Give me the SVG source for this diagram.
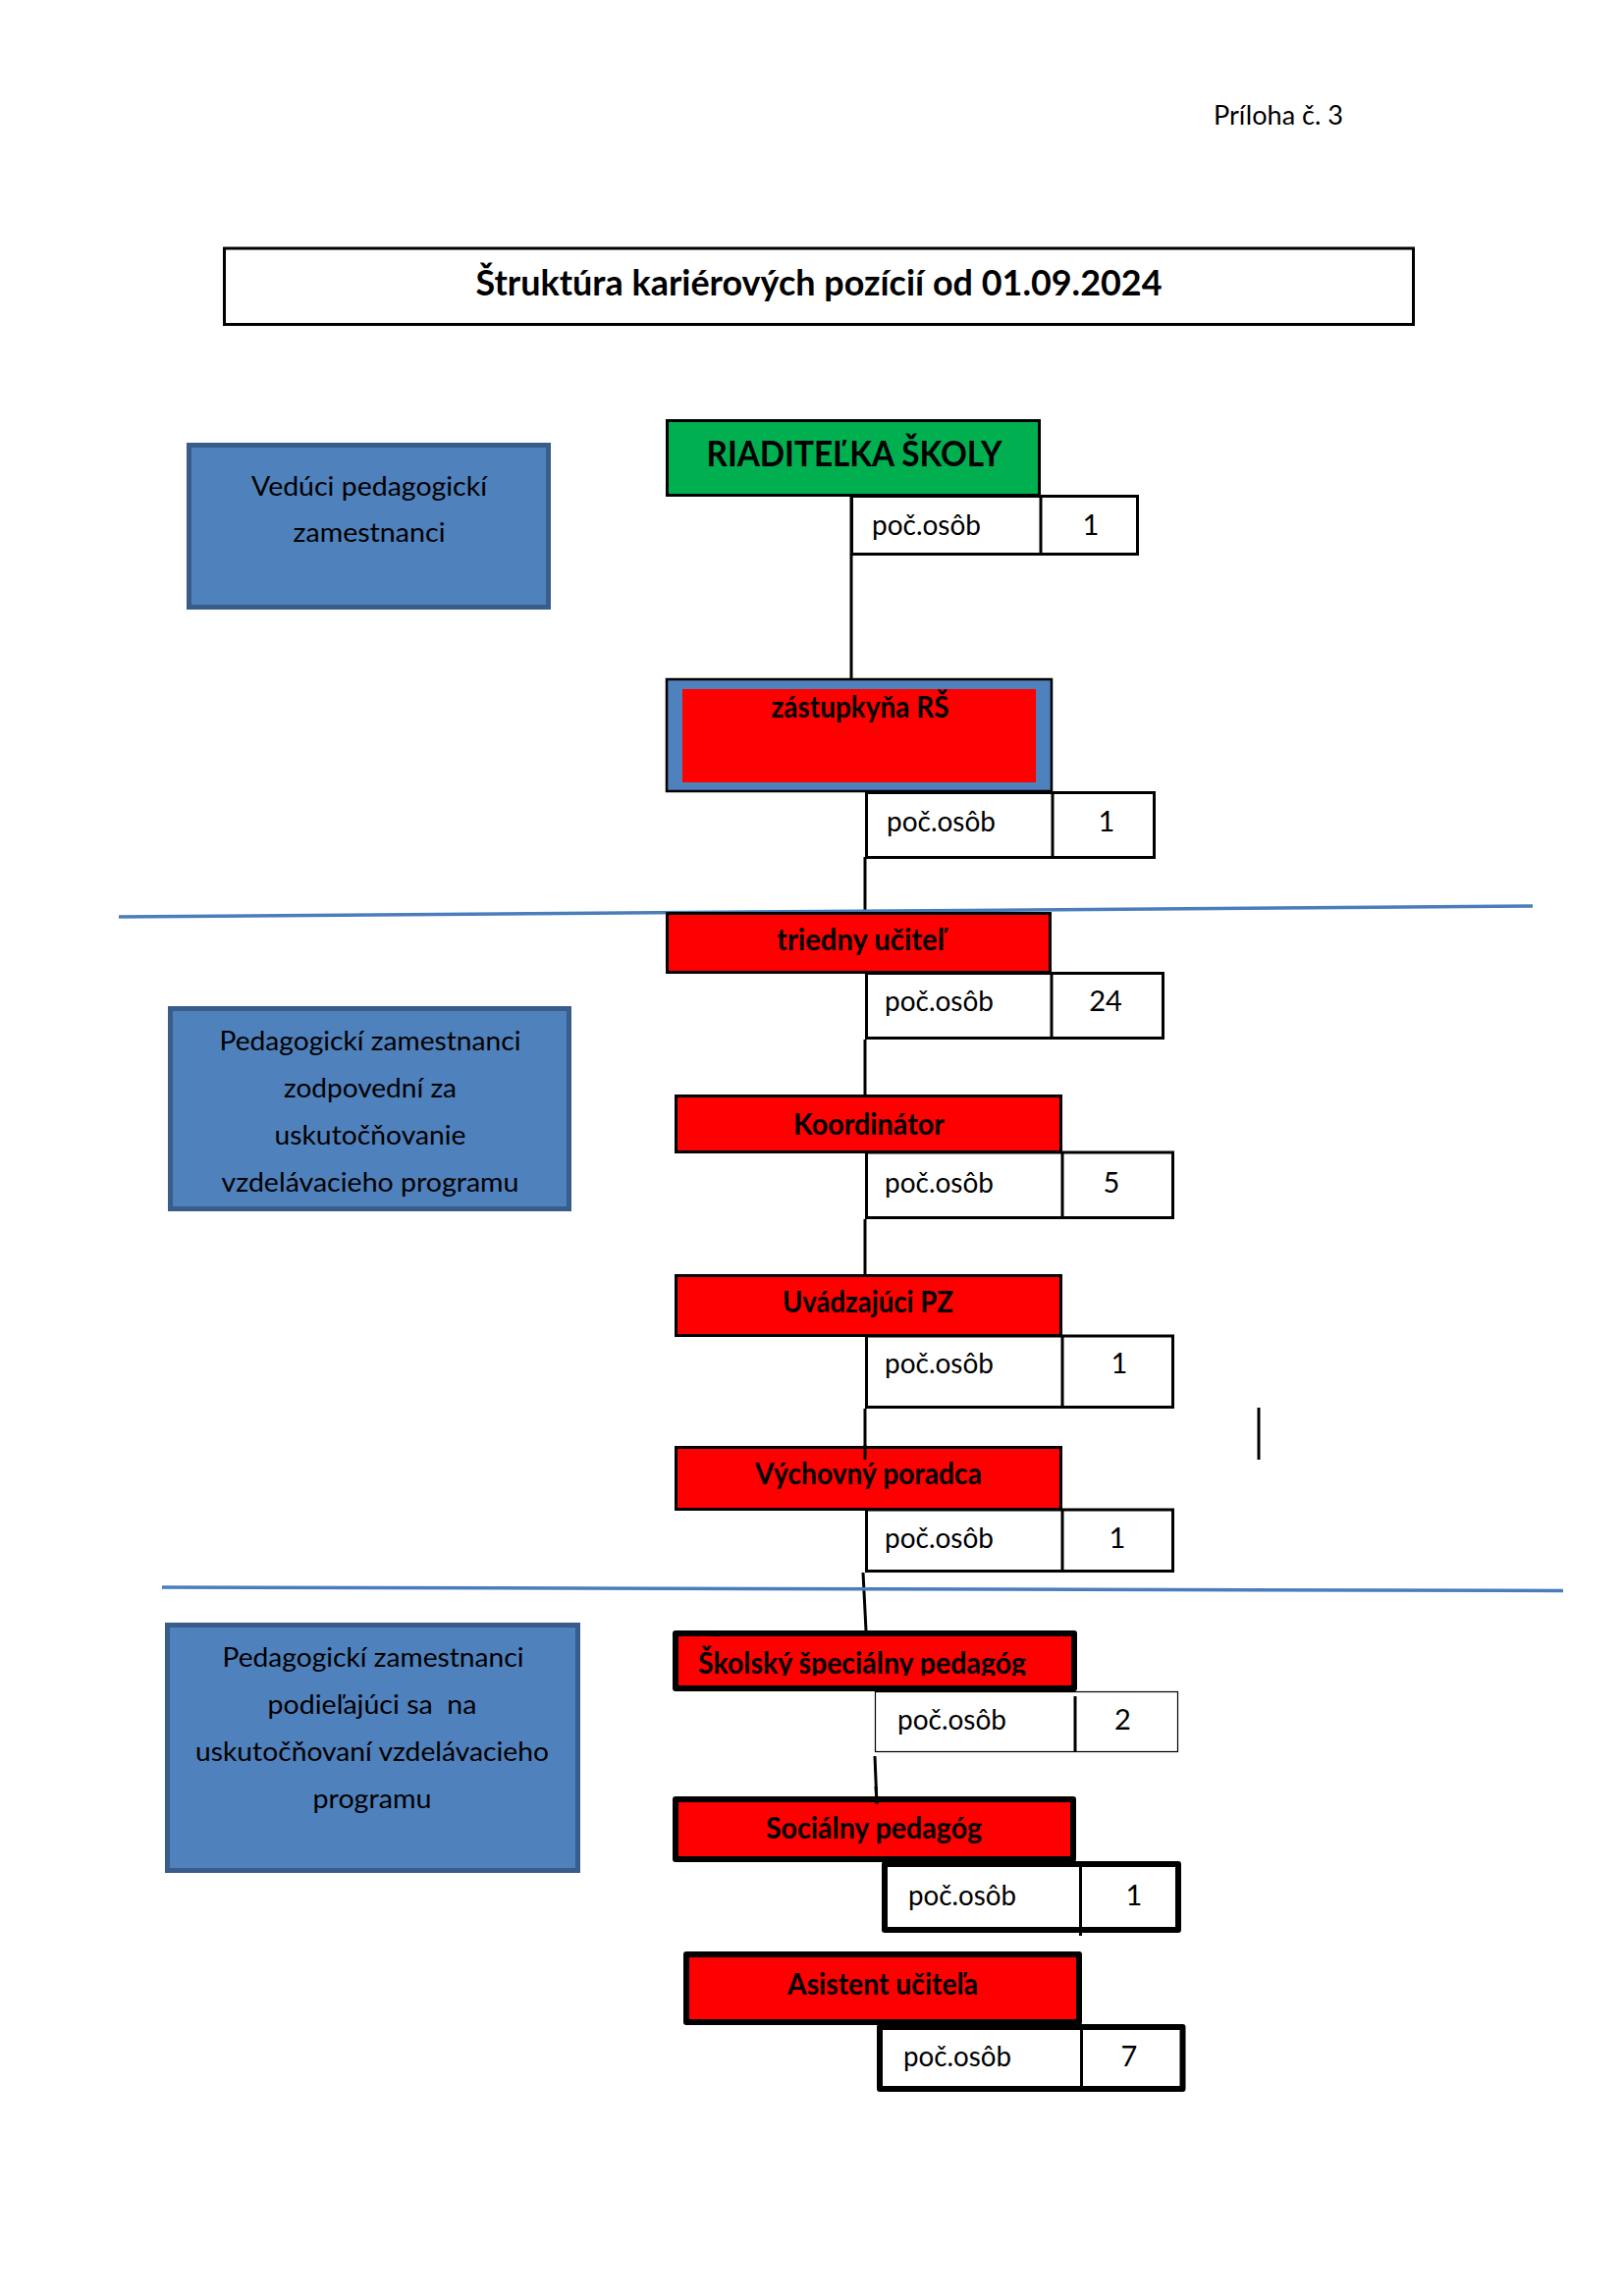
<svg xmlns="http://www.w3.org/2000/svg" width="1654" height="2339" viewBox="0 0 1654 2339">
<style>
text{font-family:Lato,"Open Sans","Liberation Sans",sans-serif;fill:#000}
.lbl{font-weight:bold;font-size:30px;text-anchor:middle}
.cnt{font-size:29px}
.num{font-size:29px;text-anchor:middle}
.bt{font-size:27px;text-anchor:middle}
.blue{fill:#4F81BD;stroke:#385D8A;stroke-width:5}
.red{fill:#FF0000;stroke:#000;stroke-width:3}
.redk{fill:#FF0000;stroke:#000;stroke-width:6;stroke-linejoin:round}
.cell{fill:#fff;stroke:#000;stroke-width:3}
.cellk{fill:#fff;stroke:#000;stroke-width:6;stroke-linejoin:round}
.ln{stroke:#000;stroke-width:3;fill:none}
.sep{stroke:#4A7EBB;stroke-width:3.5;fill:none}
</style>
<defs>
<clipPath id="clipSkol"><rect x="688" y="1664" width="406" height="43"/></clipPath>
</defs>
<rect x="0" y="0" width="1654" height="2339" fill="#fff"/>

<text x="1236" y="127" font-size="27" textLength="132" lengthAdjust="spacingAndGlyphs">Príloha č. 3</text>

<g id="title">
<rect x="228.5" y="253" width="1211" height="77.5" fill="#fff" stroke="#000" stroke-width="3"/>
<text x="834" y="301" font-size="37" font-weight="bold" text-anchor="middle" textLength="699" lengthAdjust="spacingAndGlyphs">Štruktúra kariérových pozícií od 01.09.2024</text>
</g>

<g id="connectors">
<line class="ln" x1="867" y1="506" x2="867" y2="692"/>
<line class="ln" x1="881" y1="873" x2="881" y2="930"/>
<line class="ln" x1="881" y1="1059" x2="881" y2="1116"/>
<line class="ln" x1="881" y1="1242" x2="881" y2="1299"/>
<line class="ln" x1="881" y1="1435" x2="881" y2="1487"/>
<line class="ln" x1="879" y1="1602" x2="882" y2="1661"/>
<line class="ln" x1="891" y1="1789" x2="893" y2="1838" stroke-width="2.5"/>
<line class="ln" x1="1282" y1="1434" x2="1282" y2="1487"/>
</g>

<g id="separators">
<line class="sep" x1="121" y1="934" x2="1561" y2="923"/>
<line class="sep" x1="165" y1="1617" x2="1592" y2="1620.5"/>
</g>

<g id="grp-veduci">
<rect class="blue" x="192.5" y="453.5" width="366" height="165"/>
<text class="bt" x="376" y="505" textLength="240" lengthAdjust="spacingAndGlyphs">Vedúci pedagogickí</text>
<text class="bt" x="376" y="552" textLength="155" lengthAdjust="spacingAndGlyphs">zamestnanci</text>
</g>

<g id="grp-zodpovedni">
<rect class="blue" x="173.5" y="1027.5" width="406" height="204"/>
<text class="bt" x="377" y="1070" textLength="307" lengthAdjust="spacingAndGlyphs">Pedagogickí zamestnanci</text>
<text class="bt" x="377" y="1118" textLength="176" lengthAdjust="spacingAndGlyphs">zodpovední za</text>
<text class="bt" x="377" y="1166" textLength="195" lengthAdjust="spacingAndGlyphs">uskutočňovanie</text>
<text class="bt" x="377" y="1214" textLength="303" lengthAdjust="spacingAndGlyphs">vzdelávacieho programu</text>
</g>

<g id="grp-podielajuci">
<rect class="blue" x="170.5" y="1655.5" width="418" height="250"/>
<text class="bt" x="380" y="1698" textLength="307" lengthAdjust="spacingAndGlyphs">Pedagogickí zamestnanci</text>
<text class="bt" x="379" y="1746" xml:space="preserve" textLength="213" lengthAdjust="spacingAndGlyphs">podieľajúci sa  na</text>
<text class="bt" x="379" y="1794" textLength="360" lengthAdjust="spacingAndGlyphs">uskutočňovaní vzdelávacieho</text>
<text class="bt" x="379" y="1842" textLength="121" lengthAdjust="spacingAndGlyphs">programu</text>
</g>

<g id="riaditelka">
<rect x="679.5" y="428.5" width="379" height="76" fill="#00B050" stroke="#000" stroke-width="3"/>
<text x="870" y="475" font-size="36" font-weight="bold" text-anchor="middle" textLength="301" lengthAdjust="spacingAndGlyphs">RIADITEĽKA ŠKOLY</text>
<rect class="cell" x="867.5" y="505.5" width="291" height="59"/>
<line class="ln" x1="1060" y1="506" x2="1060" y2="565"/>
<text class="cnt" x="888" y="545" textLength="111" lengthAdjust="spacingAndGlyphs">poč.osôb</text>
<text class="num" x="1111" y="545">1</text>
</g>

<g id="zastupkyna">
<rect x="679" y="692" width="392" height="114" fill="#4F81BD" stroke="#000" stroke-width="2.5"/>
<rect x="695" y="702" width="360" height="95" fill="#FF0000"/>
<text class="lbl" x="876" y="731" textLength="181" lengthAdjust="spacingAndGlyphs">zástupkyňa RŠ</text>
<rect class="cell" x="882.5" y="807.5" width="293" height="66"/>
<line class="ln" x1="1072" y1="807" x2="1072" y2="874"/>
<text class="cnt" x="903" y="847" textLength="111" lengthAdjust="spacingAndGlyphs">poč.osôb</text>
<text class="num" x="1127" y="847">1</text>
</g>

<g id="triedny">
<rect class="red" x="679.5" y="930.5" width="390" height="60"/>
<text class="lbl" x="876.5" y="968" textLength="171" lengthAdjust="spacingAndGlyphs">triedny učiteľ</text>
<rect class="cell" x="882.5" y="991.5" width="302" height="66"/>
<line class="ln" x1="1071" y1="991" x2="1071" y2="1058"/>
<text class="cnt" x="901" y="1030" textLength="111" lengthAdjust="spacingAndGlyphs">poč.osôb</text>
<text class="num" x="1126" y="1030">24</text>
</g>

<g id="koordinator">
<rect class="red" x="688.5" y="1116.5" width="392" height="57"/>
<text class="lbl" x="885" y="1156" textLength="154" lengthAdjust="spacingAndGlyphs">Koordinátor</text>
<rect class="cell" x="882.5" y="1174" width="312" height="66.5"/>
<line class="ln" x1="1082" y1="1174" x2="1082" y2="1241"/>
<text class="cnt" x="901" y="1215" textLength="111" lengthAdjust="spacingAndGlyphs">poč.osôb</text>
<text class="num" x="1132" y="1215">5</text>
</g>

<g id="uvadzajuci">
<rect class="red" x="688.5" y="1299.5" width="392" height="61"/>
<text class="lbl" x="884" y="1337" textLength="174" lengthAdjust="spacingAndGlyphs">Uvádzajúci PZ</text>
<rect class="cell" x="882.5" y="1361" width="312" height="72.5"/>
<line class="ln" x1="1082" y1="1361" x2="1082" y2="1434"/>
<text class="cnt" x="901" y="1399" textLength="111" lengthAdjust="spacingAndGlyphs">poč.osôb</text>
<text class="num" x="1140" y="1399">1</text>
</g>

<g id="vychovny">
<rect class="red" x="688.5" y="1474.5" width="392" height="63"/>
<text class="lbl" x="884.5" y="1512" textLength="231" lengthAdjust="spacingAndGlyphs">Výchovný poradca</text>
<rect class="cell" x="882.5" y="1538" width="312" height="62.5"/>
<line class="ln" x1="1082" y1="1538" x2="1082" y2="1601"/>
<text class="cnt" x="901" y="1577" textLength="111" lengthAdjust="spacingAndGlyphs">poč.osôb</text>
<text class="num" x="1138" y="1577">1</text>
</g>
<line class="ln" x1="881" y1="1472" x2="881" y2="1487"/>

<g id="skolsky">
<rect class="redk" x="688" y="1664" width="406" height="56"/>
<text x="711" y="1705" font-size="30" font-weight="bold" clip-path="url(#clipSkol)" textLength="334" lengthAdjust="spacingAndGlyphs">Školský špeciálny pedagóg</text>
<rect x="891.5" y="1723.5" width="308" height="61" fill="#fff" stroke="#000" stroke-width="1.2"/>
<line class="ln" x1="1095" y1="1728" x2="1095" y2="1785"/>
<text class="cnt" x="914" y="1762" textLength="111" lengthAdjust="spacingAndGlyphs">poč.osôb</text>
<text class="num" x="1143.5" y="1762">2</text>
</g>

<g id="socialny">
<rect class="redk" x="688" y="1833" width="405" height="61"/>
<text class="lbl" x="890" y="1873" textLength="220" lengthAdjust="spacingAndGlyphs">Sociálny pedagóg</text>
<rect class="cellk" x="901" y="1899" width="299" height="67"/>
<line class="ln" x1="1100.5" y1="1899" x2="1100.5" y2="1972"/>
<text class="cnt" x="925" y="1941" textLength="110" lengthAdjust="spacingAndGlyphs">poč.osôb</text>
<text class="num" x="1155" y="1941">1</text>
</g>
<line class="ln" x1="892" y1="1820" x2="893" y2="1838" stroke-width="2.5"/>

<g id="asistent">
<rect class="redk" x="699" y="1991" width="400" height="69"/>
<text class="lbl" x="899" y="2032" textLength="194" lengthAdjust="spacingAndGlyphs">Asistent učiteľa</text>
<rect class="cellk" x="896" y="2065" width="308.5" height="63"/>
<line class="ln" x1="1101.5" y1="2065" x2="1101.5" y2="2128"/>
<text class="cnt" x="920" y="2105" textLength="110" lengthAdjust="spacingAndGlyphs">poč.osôb</text>
<text class="num" x="1150" y="2105">7</text>
</g>
</svg>
